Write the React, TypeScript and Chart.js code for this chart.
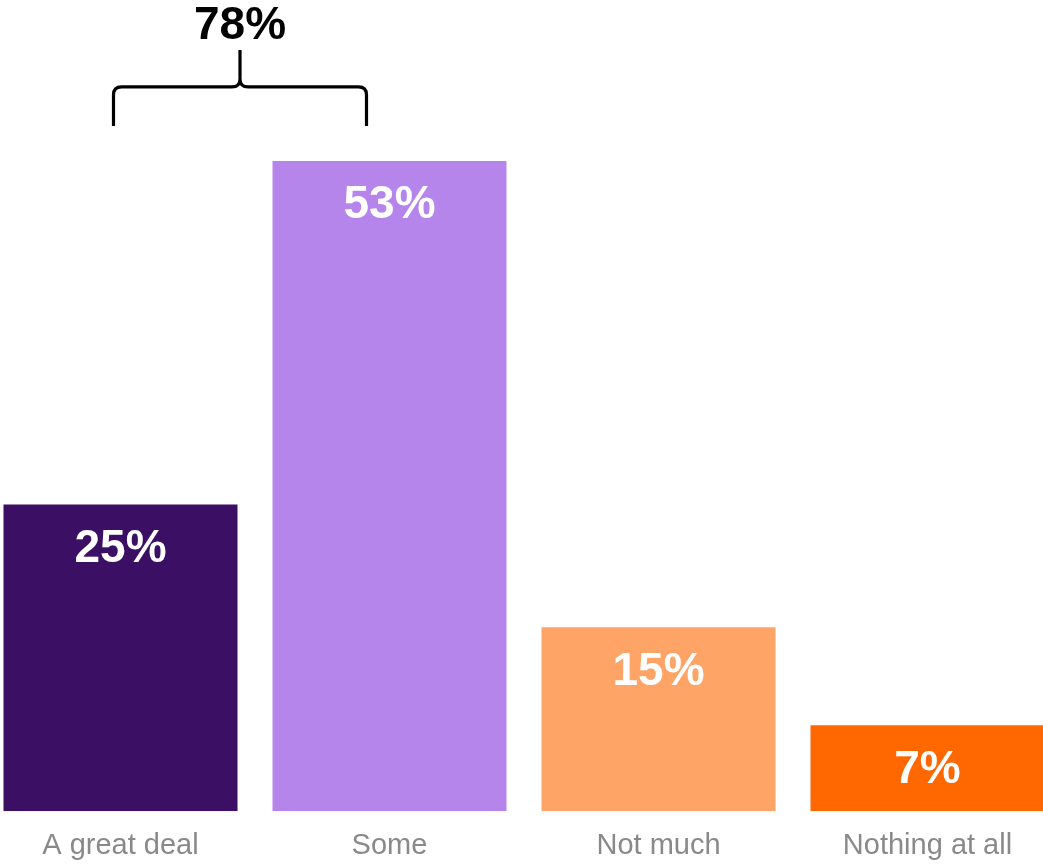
import React, { useEffect, useRef } from "react";
import { Chart, registerables } from "chart.js";

Chart.register(...registerables);

const categories = ["A great deal", "Some", "Not much", "Nothing at all"];
const values = [25, 53, 15, 7];
const barColors = ["#3B0F63", "#B585EC", "#FFA467", "#FF6700"];
const groupedIndices = [0, 1];

const FONT = "'Liberation Sans', Arial, Helvetica, sans-serif";

const overlayPlugin = {
  id: "overlay",
  afterDatasetsDraw(chart: any) {
    const ctx = chart.ctx;
    const meta = chart.getDatasetMeta(0);
    const yScale = chart.scales.y;
    ctx.save();
    // value labels inside bars
    ctx.fillStyle = "#FFFFFF";
    ctx.font = `bold 46px ${FONT}`;
    ctx.textAlign = "center";
    ctx.textBaseline = "alphabetic";
    meta.data.forEach((bar: any, i: number) => {
      ctx.fillText(`${values[i]}%`, bar.x, bar.y + 57.5);
    });
    // bracket over grouped bars
    const b0 = meta.data[groupedIndices[0]];
    const b1 = meta.data[groupedIndices[1]];
    const topVal = Math.max(...groupedIndices.map((i) => values[i]));
    const base = yScale.getPixelForValue(topVal);
    const L = b0.x - 7;
    const R = b1.x - 23;
    const M = (L + R) / 2;
    const yb = base - 35;
    const yh = base - 74;
    const yt = base - 111;
    const r = 8;
    ctx.strokeStyle = "#000000";
    ctx.lineWidth = 3.2;
    ctx.lineJoin = "round";
    ctx.beginPath();
    ctx.moveTo(L, yb);
    ctx.lineTo(L, yh + r);
    ctx.quadraticCurveTo(L, yh, L + r, yh);
    ctx.lineTo(M - r, yh);
    ctx.quadraticCurveTo(M, yh, M, yh - r);
    ctx.lineTo(M, yt);
    ctx.moveTo(M, yh - r);
    ctx.quadraticCurveTo(M, yh, M + r, yh);
    ctx.lineTo(R - r, yh);
    ctx.quadraticCurveTo(R, yh, R, yh + r);
    ctx.lineTo(R, yb);
    ctx.stroke();
    const total = groupedIndices.reduce((s, i) => s + values[i], 0);
    ctx.fillStyle = "#000000";
    ctx.font = `bold 46px ${FONT}`;
    ctx.textAlign = "center";
    ctx.textBaseline = "alphabetic";
    ctx.fillText(`${total}%`, M, base - 122);
    ctx.restore();
  },
};

export default function App() {
  const canvasRef = useRef<HTMLCanvasElement | null>(null);

  useEffect(() => {
    if (!canvasRef.current) return;
    const chart = new Chart(canvasRef.current, {
      type: "bar",
      data: {
        labels: categories,
        datasets: [
          {
            data: values,
            backgroundColor: barColors,
            borderWidth: 0,
            barPercentage: 1,
            categoryPercentage: 234 / 269,
          },
        ],
      },
      options: {
        animation: false,
        responsive: true,
        maintainAspectRatio: false,
        layout: { padding: { top: 75, bottom: 3, left: 0, right: 0 } },
        plugins: {
          legend: { display: false },
          tooltip: { enabled: false },
          title: { display: false },
        },
        scales: {
          x: {
            grid: { display: false, drawTicks: false },
            border: { display: false },
            ticks: {
              color: "#898989",
              padding: 17,
              font: { family: FONT, size: 29 },
              maxRotation: 0,
              autoSkip: false,
            },
          },
          y: {
            display: false,
            min: 0,
            max: 60,
          },
        },
      },
      plugins: [overlayPlugin],
    });
    return () => chart.destroy();
  }, []);

  return (
    <div
      style={{
        position: "fixed",
        left: "-14.5px",
        top: 0,
        width: "1076px",
        height: "883px",
        background: "#FFFFFF",
      }}
    >
      <canvas ref={canvasRef} />
    </div>
  );
}
